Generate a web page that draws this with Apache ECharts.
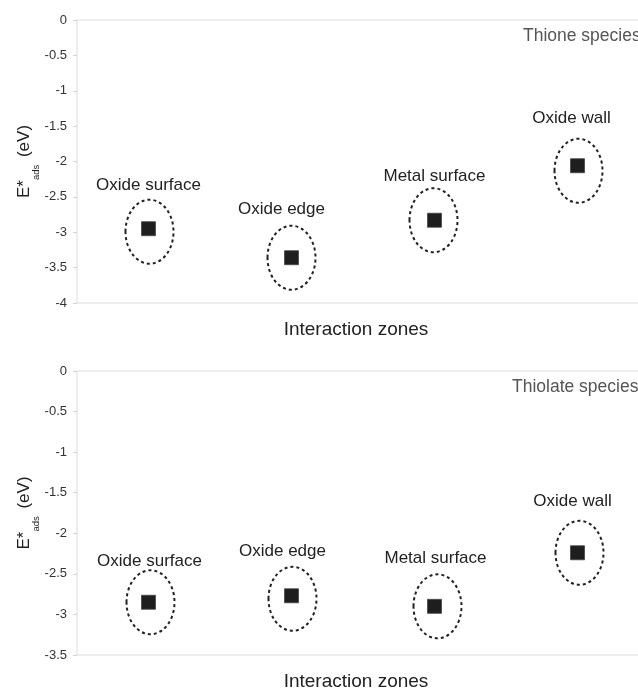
<!DOCTYPE html>
<html>
<head>
<meta charset="utf-8">
<script src="https://cdn.jsdelivr.net/npm/echarts@6/dist/echarts.min.js"></script>
<style>
  html, body { margin: 0; padding: 0; background: #fff; }
  #chart { width: 638px; height: 688px; }
</style>
</head>
<body>
<div id="chart"></div>
<script>
// Adsorption energies per interaction zone, for the two sulfur species
const zones = ['Oxide surface', 'Oxide edge', 'Metal surface', 'Oxide wall'];
const thioneEnergy = [-2.95, -3.36, -2.83, -2.06];
const thiolateEnergy = [-2.85, -2.77, -2.90, -2.24];

// Y tick labels of each panel
const thioneTicks = [0, -0.5, -1, -1.5, -2, -2.5, -3, -3.5, -4];
const thiolateTicks = [0, -0.5, -1, -1.5, -2, -2.5, -3, -3.5];

const xTitle = 'Interaction zones';
const yTitle = '{b|E*}{s|ads}{b| (eV)}';
const panelTitles = ['Thione species', 'Thiolate species'];

// Hand-placed annotation offsets (px): zone captions and dashed rings
const thioneLabelShift = [[0, -43], [-10, -48], [0, -44], [-6, -47]];
const thiolateLabelShift = [[1, -41], [-9, -44], [1, -48], [-5, -51]];
const thioneRingShift = [[1, 3], [0, 0], [-1, 0], [1, 5]];
const thiolateRingShift = [[2, 0], [1, 3], [3, 0], [2, 0]];

const FONT = '"Liberation Sans", Arial, sans-serif';
const INK = '#222';

const panelBoxes = [
  { top: 20, height: 283 },
  { top: 371, height: 284 }
];

function panel(idx, values, ticks, labelShift, ringShift) {
  const box = panelBoxes[idx];
  // The plot area runs slightly past the right edge of the canvas
  const grid = {
    left: 77, top: box.top, width: 572, height: box.height,
    outerBoundsMode: 'none', containLabel: false,
    show: true, borderColor: '#dcdcdc', borderWidth: 1,
    backgroundColor: 'transparent'
  };
  const xAxis = {
    type: 'category', gridIndex: idx, data: zones, boundaryGap: true,
    axisLine: { show: false }, axisTick: { show: false }, axisLabel: { show: false },
    name: xTitle, nameLocation: 'middle', nameGap: 17,
    nameTextStyle: { fontFamily: FONT, fontSize: 19, color: INK, padding: [0, 14, 0, 0] }
  };
  const yAxis = {
    type: 'value', gridIndex: idx,
    min: Math.min(...ticks), max: Math.max(...ticks), interval: 0.5,
    axisLine: { show: false },
    axisTick: { show: true, length: 4, lineStyle: { color: '#d4d4d4' } },
    splitLine: { show: false },
    axisLabel: { fontFamily: FONT, fontSize: 13, color: '#333', margin: 10 }
  };
  const rings = {
    type: 'custom', xAxisIndex: idx, yAxisIndex: idx, silent: true, z: 1,
    data: values.map((v, i) => [i, v]),
    renderItem: function (params, api) {
      const p = api.coord([api.value(0), api.value(1)]);
      const s = ringShift[params.dataIndex];
      return {
        type: 'ellipse',
        shape: { cx: p[0] + s[0], cy: p[1] + s[1], rx: 24, ry: 32 },
        style: { fill: 'none', stroke: INK, lineWidth: 2, lineDash: [3, 3] }
      };
    }
  };
  const points = {
    type: 'scatter', xAxisIndex: idx, yAxisIndex: idx, z: 3,
    symbol: 'rect', symbolSize: 14,
    itemStyle: { color: '#1e1e1e', borderColor: '#444', borderWidth: 0.8, opacity: 1 },
    data: values.map((v, i) => ({ value: [i, v], label: { offset: labelShift[i] } })),
    label: {
      show: true, position: 'inside', color: INK, fontFamily: FONT, fontSize: 17,
      formatter: p => zones[p.dataIndex]
    }
  };
  // Rotated y-axis title with the "ads" subscript, centred on the plot height
  const yName = {
    type: 'text', x: 25, y: box.top + box.height / 2, rotation: Math.PI / 2,
    style: {
      text: yTitle, align: 'center', verticalAlign: 'middle',
      rich: {
        b: { fontFamily: FONT, fontSize: 17, fill: INK, lineHeight: 18, verticalAlign: 'top' },
        s: { fontFamily: FONT, fontSize: 9.5, fill: INK, lineHeight: 9, padding: [15, 3, 0, 0], verticalAlign: 'top' }
      }
    }
  };
  return { grid, xAxis, yAxis, series: [rings, points], yName };
}

const upperPanel = panel(0, thioneEnergy, thioneTicks, thioneLabelShift, thioneRingShift);
const lowerPanel = panel(1, thiolateEnergy, thiolateTicks, thiolateLabelShift, thiolateRingShift);

const chart = echarts.init(document.getElementById('chart'), null, { renderer: 'canvas' });
chart.setOption({
  animation: false,
  backgroundColor: '#fff',
  grid: [upperPanel.grid, lowerPanel.grid],
  xAxis: [upperPanel.xAxis, lowerPanel.xAxis],
  yAxis: [upperPanel.yAxis, lowerPanel.yAxis],
  series: upperPanel.series.concat(lowerPanel.series),
  graphic: [
    upperPanel.yName,
    lowerPanel.yName,
    { type: 'text', x: 523, y: 36, style: { text: panelTitles[0], font: '17.5px ' + FONT, fill: '#555', verticalAlign: 'middle' } },
    { type: 'text', x: 512, y: 387, style: { text: panelTitles[1], font: '17.5px ' + FONT, fill: '#555', verticalAlign: 'middle' } }
  ]
});
</script>
</body>
</html>
